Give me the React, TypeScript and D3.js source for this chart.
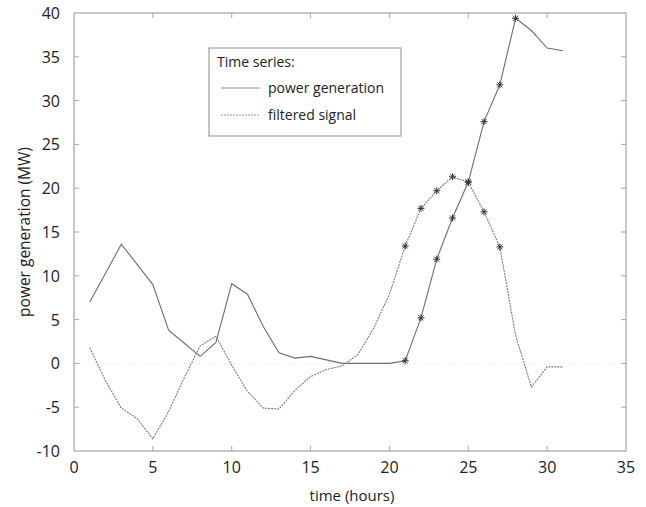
import * as d3 from "d3";

const hours = d3.range(1, 32);
const powerGeneration = [
  7.0, 10.3, 13.6, 11.3, 9.0, 3.8, 2.3, 0.8, 2.4, 9.1, 7.9, 4.2, 1.2, 0.6, 0.8, 0.4,
  0.0, 0.0, 0.0, 0.0, 0.3, 5.2, 11.9, 16.6, 20.7, 27.6, 31.8, 39.4, 38.0, 36.0, 35.7,
];
const filteredSignal = [
  1.8, -2.0, -5.1, -6.3, -8.6, -5.5, -1.6, 2.0, 3.1, -0.2, -3.2, -5.1, -5.2, -3.1, -1.5, -0.7,
  -0.3, 1.0, 4.0, 7.9, 13.4, 17.7, 19.7, 21.3, 20.7, 17.3, 13.3, 3.2, -2.7, -0.4, -0.4,
];
const powerStars = [21, 22, 23, 24, 25, 26, 27, 28];
const filteredStars = [21, 22, 23, 24, 25, 26, 27];
const xTicks = [0, 5, 10, 15, 20, 25, 30, 35];
const yTicks = [-10, -5, 0, 5, 10, 15, 20, 25, 30, 35, 40];
const seriesNames = ["power generation", "filtered signal"];

const W = 646;
const H = 507;
const left = 74;
const right = 626;
const top = 13;
const bottom = 451;

const font = "'Open Sans', Lato, sans-serif";

export default function App() {
  const x = d3.scaleLinear().domain([0, 35]).range([left, right]);
  const y = d3.scaleLinear().domain([-10, 40]).range([bottom, top]);

  const line = d3
    .line<number>()
    .x((d, i) => x(hours[i]))
    .y((d) => y(d));

  // 8-armed asterisk marker
  const star = (cx: number, cy: number, r = 3.5) => {
    const a = r * 0.72;
    return `M${cx - r},${cy}L${cx + r},${cy}M${cx},${cy - r}L${cx},${cy + r}` +
      `M${cx - a},${cy - a}L${cx + a},${cy + a}M${cx - a},${cy + a}L${cx + a},${cy - a}`;
  };

  const frame = "#a6a6a6";

  return (
    <svg
      width={W}
      height={H}
      style={{ position: "absolute", left: 0, top: 0, background: "#fff" }}
      fontFamily={font}
    >
      {/* zero line */}
      <line x1={left} x2={right} y1={y(0)} y2={y(0)} stroke="#ddd" strokeDasharray="1,4" />

      {/* frame */}
      <rect x={left} y={top} width={right - left} height={bottom - top} fill="none" stroke={frame} strokeWidth={1.2} />
      {xTicks.slice(1, -1).map((t) => (
        <g key={"xt" + t} stroke={frame}>
          <line x1={x(t)} x2={x(t)} y1={bottom} y2={bottom - 5} />
          <line x1={x(t)} x2={x(t)} y1={top} y2={top + 5} />
        </g>
      ))}
      {yTicks.slice(1, -1).map((t) => (
        <g key={"yt" + t} stroke={frame}>
          <line x1={left} x2={left + 5} y1={y(t)} y2={y(t)} />
          <line x1={right} x2={right - 5} y1={y(t)} y2={y(t)} />
        </g>
      ))}

      {/* tick labels */}
      {xTicks.map((t) => (
        <text key={"xl" + t} x={x(t)} y={bottom + 22} textAnchor="middle" fontSize={16} fill="#222">
          {t}
        </text>
      ))}
      {yTicks.map((t) => (
        <text key={"yl" + t} x={left - 14} y={y(t) + 6} textAnchor="end" fontSize={16} fill="#222">
          {t}
        </text>
      ))}

      {/* axis titles */}
      <text x={352} y={501} textAnchor="middle" fontSize={15} fill="#222">
        time (hours)
      </text>
      <text
        transform={`translate(30,${(top + bottom) / 2}) rotate(-90)`}
        textAnchor="middle"
        fontSize={15.5}
        fill="#222"
      >
        power generation (MW)
      </text>

      {/* series */}
      <path d={line(powerGeneration) ?? ""} fill="none" stroke="#6e6e6e" strokeWidth={1.1} />
      <path d={line(filteredSignal) ?? ""} fill="none" stroke="#7a7a7a" strokeWidth={1.1} strokeDasharray="2,1" />

      {powerStars.map((h) => (
        <path key={"ps" + h} d={star(x(h), y(powerGeneration[h - 1]))} stroke="#333" strokeWidth={1} />
      ))}
      {filteredStars.map((h) => (
        <path key={"fs" + h} d={star(x(h), y(filteredSignal[h - 1]))} stroke="#333" strokeWidth={1} />
      ))}

      {/* legend */}
      <rect x={209} y={48} width={192} height={88} fill="#fff" stroke="#8c8c8c" strokeWidth={1} />
      <text x={217} y={67} fontSize={14} fill="#222">
        Time series:
      </text>
      <line x1={221} x2={260} y1={88} y2={88} stroke="#8a8a8a" strokeWidth={1.1} />
      <text x={268} y={93} fontSize={14} fill="#222">
        {seriesNames[0]}
      </text>
      <line x1={221} x2={260} y1={115} y2={115} stroke="#9a9a9a" strokeWidth={1.1} strokeDasharray="2,1" />
      <text x={268} y={120} fontSize={14} fill="#222">
        {seriesNames[1]}
      </text>
    </svg>
  );
}
